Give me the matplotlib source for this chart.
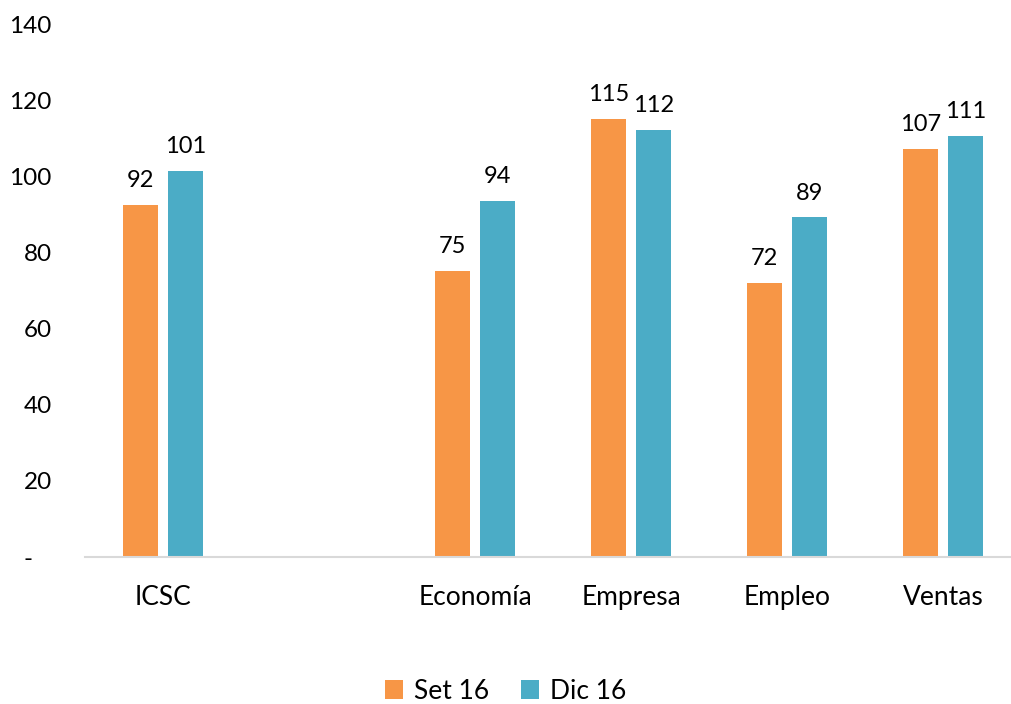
import numpy as np
import matplotlib.pyplot as plt

plt.rcParams['font.family'] = ['Lato', 'DejaVu Sans']

categorias = ['ICSC', '', 'Economía', 'Empresa', 'Empleo', 'Ventas']
set16 = [92.4, np.nan, 75.2, 115.0, 72.1, 107.1]
dic16 = [101.3, np.nan, 93.6, 112.1, 89.2, 110.6]
etiquetas_set = ['92', '', '75', '115', '72', '107']
etiquetas_dic = ['101', '', '94', '112', '89', '111']
yticks = [0, 20, 40, 60, 80, 100, 120, 140]
yticklabels = ['-   ', '20', '40', '60', '80', '100', '120', '140']

naranja = '#F79646'
azul = '#4BACC6'

fig = plt.figure(figsize=(10.11, 7.04), dpi=100)
ax = fig.add_axes([0.0841, 0.2088, 0.9258, 0.7571])

x = np.arange(len(categorias))
w = 0.23
b1 = ax.bar(x - 0.144, set16, w, color=naranja, label='Set 16')
b2 = ax.bar(x + 0.144, dic16, w, color=azul, label='Dic 16')

for rects, labs in [(b1, etiquetas_set), (b2, etiquetas_dic)]:
    for r, lab in zip(rects, labs):
        if lab:
            ax.annotate(lab, (r.get_x() + r.get_width() / 2, r.get_height()),
                        xytext=(0, 10), textcoords='offset points',
                        ha='center', va='bottom', fontsize=17, color='#000000')

ax.set_xlim(-0.5, 5.5)
ax.set_ylim(0, 140)
ax.set_xticks(x)
ax.set_xticklabels(categorias, fontsize=19)
ax.set_yticks(yticks)
ax.set_yticklabels(yticklabels, fontsize=17.5)
ax.tick_params(axis='both', length=0)
ax.tick_params(axis='y', pad=24)
ax.tick_params(axis='x', pad=20)

for s in ['top', 'right', 'left']:
    ax.spines[s].set_visible(False)
ax.spines['bottom'].set_color('#D9D9D9')
ax.spines['bottom'].set_linewidth(1.5)

fig.legend(handles=[b1, b2], loc='center', bbox_to_anchor=(0.5, 0.018),
           ncol=2, frameon=False, fontsize=19, handlelength=0.7,
           handleheight=0.7, handletextpad=0.4, columnspacing=1.2)

fig.savefig('out.png', dpi=100)
